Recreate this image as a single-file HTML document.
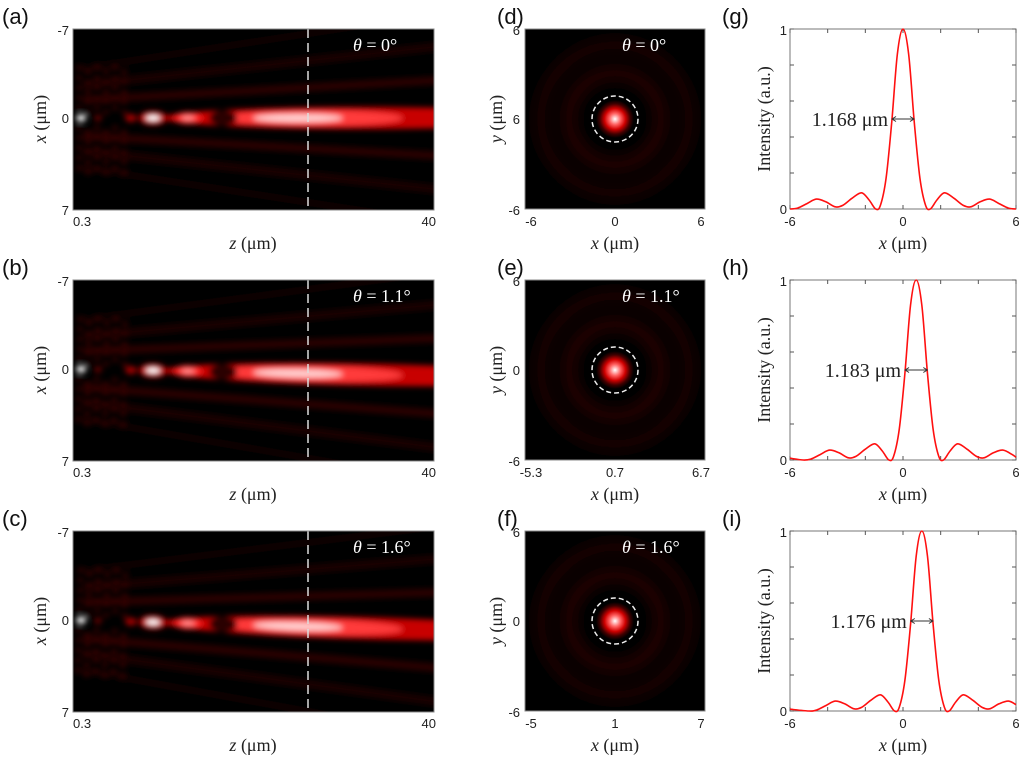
<!DOCTYPE html>
<html><head><meta charset="utf-8">
<style>
html,body{margin:0;padding:0;background:#fff;}
svg{display:block;}
.tk{font-family:"Liberation Sans",sans-serif;font-size:13px;fill:#222;}
.lb{font-family:"Liberation Serif",serif;font-size:18px;fill:#222;}
.fw{font-family:"Liberation Serif",serif;font-size:20px;fill:#222;}
.pl{font-family:"Liberation Sans",sans-serif;font-size:22px;fill:#111;}
.th{font-family:"Liberation Serif",serif;font-size:18px;fill:#fff;}
</style></head>
<body>
<svg id="fig" width="1024" height="758" viewBox="0 0 1024 758" xmlns="http://www.w3.org/2000/svg">
<defs>
<filter id="blur" x="-20%" y="-50%" width="140%" height="200%"><feGaussianBlur stdDeviation="3"/></filter>
<filter id="blur2" x="-30%" y="-30%" width="160%" height="160%"><feGaussianBlur stdDeviation="6"/></filter>
<radialGradient id="spot">
<stop offset="0" stop-color="#ffffff"/><stop offset="0.3" stop-color="#ff6060"/><stop offset="0.55" stop-color="#d00000"/><stop offset="0.8" stop-color="#400000"/><stop offset="1" stop-color="#000"/>
</radialGradient>
</defs>
</svg>
<script>
// ---- data ----
const rowAngles = [0, 1.1, 1.6];
const angleLabels = ["0°", "1.1°", "1.6°"];
const beamLetters = ["(a)", "(b)", "(c)"];
const spotLetters = ["(d)", "(e)", "(f)"];
const profLetters = ["(g)", "(h)", "(i)"];
const spotXTicks = [["-6","0","6"], ["-5.3","0.7","6.7"], ["-5","1","7"]];
const spotYTicks = [["6","6","-6"], ["6","0","-6"], ["6","0","-6"]];
const fwhmLabels = ["1.168 μm", "1.183 μm", "1.176 μm"];
const fwhmWidths = [1.168, 1.183, 1.176];
const peakPos = [0, 0.7, 1.0];
const profX_g = [-6,-5.6,-5.1,-4.6,-4.1,-3.6,-3.2,-2.7,-2.2,-1.8,-1.45,-1.2,-0.9,-0.6,-0.3,0,0.3,0.6,0.9,1.2,1.45,1.8,2.2,2.7,3.2,3.6,4.1,4.6,5.1,5.6,6];
const profY_g = [0,0.005,0.03,0.055,0.04,0.012,0.02,0.06,0.09,0.05,0,0.02,0.17,0.48,0.86,1,0.86,0.48,0.17,0.02,0,0.05,0.09,0.06,0.02,0.012,0.04,0.055,0.03,0.005,0];
const profX_h = [-6,-5.3,-4.9,-4.4,-3.9,-3.4,-2.9,-2.5,-2.0,-1.5,-1.1,-0.75,-0.5,-0.2,0.1,0.4,0.7,1.0,1.3,1.6,1.9,2.15,2.5,2.9,3.4,3.9,4.3,4.8,5.3,5.8,6];
const profY_h = [0.01,0,0.005,0.03,0.055,0.04,0.012,0.02,0.06,0.09,0.05,0,0.02,0.17,0.48,0.86,1,0.86,0.48,0.17,0.02,0,0.05,0.09,0.06,0.02,0.012,0.04,0.055,0.03,0.015];
const profX_i = [-6,-5,-4.6,-4.1,-3.6,-3.1,-2.6,-2.2,-1.7,-1.2,-0.8,-0.45,-0.2,0.1,0.4,0.7,1.0,1.3,1.6,1.9,2.2,2.45,2.8,3.2,3.7,4.2,4.6,5.1,5.6,6];
const profY_i = [0.01,0,0.005,0.03,0.055,0.04,0.012,0.02,0.06,0.09,0.05,0,0.02,0.17,0.48,0.86,1,0.86,0.48,0.17,0.02,0,0.05,0.09,0.06,0.02,0.012,0.04,0.055,0.035];
const profXs = [profX_g, profX_h, profX_i];
const profYs = [profY_g, profY_h, profY_i];

const NS = "http://www.w3.org/2000/svg";
const svg = document.getElementById("fig");
function mk(tag, attrs, parent, text){
  const e = document.createElementNS(NS, tag);
  for (const k in attrs) e.setAttribute(k, attrs[k]);
  if (text !== undefined) e.textContent = text;
  (parent || svg).appendChild(e);
  return e;
}
const rowOff = [0, 251, 502];

rowOff.forEach((R, r) => {
  // ===== beam panel =====
  const ax = 73, ay = 29 + R, aw = 361, ah = 181;
  const l1 = mk("text", {x: 2, y: 24 + R, class: "pl"}, svg, beamLetters[r]);
  
  
  const cp = mk("clipPath", {id: "clipA" + r}, svg);
  mk("rect", {x: ax, y: ay, width: aw, height: ah}, cp);
  const bg = mk("g", {"clip-path": "url(#clipA" + r + ")"});
  
  
  mk("rect", {x: ax, y: ay, width: aw, height: ah, fill: "#000"}, bg);
  const cy = 89;
  const inner = mk("g", {transform: `translate(${ax},${ay}) rotate(${rowAngles[r]} 0 ${cy})`, filter: "url(#blur)"}, bg);
  // side lobes
  [[18,38,"#2c0000",8],[33,72,"#1a0000",8],[50,105,"#100000",7]].forEach(s=>{
    mk("line", {x1: 10, y1: cy - s[0], x2: 370, y2: cy - s[1], stroke: s[2], "stroke-width": s[3]}, inner);
    mk("line", {x1: 10, y1: cy + s[0], x2: 370, y2: cy + s[1], stroke: s[2], "stroke-width": s[3]}, inner);
  });
  // near-field speckle
  for (let i = 0; i < 6; i++) for (let j = -5; j <= 5; j++) {
    if (j === 0) continue;
    mk("ellipse", {cx: 6 + i * 9, cy: cy + j * 10 + (i % 2) * 4, rx: 3, ry: 2.5, fill: "#3a0000"}, inner);
  }
  mk("ellipse", {cx: 290, cy: cy, rx: 200, ry: 11, fill: "#c80000"}, inner);
  mk("ellipse", {cx: 240, cy: cy, rx: 90, ry: 8, fill: "#ff3a3a"}, inner);
  mk("ellipse", {cx: 225, cy: cy, rx: 45, ry: 4, fill: "#ffd0d0"}, inner);
  mk("ellipse", {cx: 150, cy: cy, rx: 14, ry: 8, fill: "#2a0000"}, inner);
  mk("ellipse", {cx: 115, cy: cy, rx: 14, ry: 6, fill: "#ff2020"}, inner);
  mk("ellipse", {cx: 115, cy: cy, rx: 7, ry: 2.5, fill: "#ff9090"}, inner);
  mk("ellipse", {cx: 80, cy: cy, rx: 14, ry: 7, fill: "#c00000"}, inner);
  mk("ellipse", {cx: 80, cy: cy, rx: 7, ry: 3, fill: "#ffffff"}, inner);
  mk("ellipse", {cx: 58, cy: cy, rx: 6, ry: 4, fill: "#a00000"}, inner);
  mk("ellipse", {cx: 8, cy: cy, rx: 5, ry: 3.5, fill: "#ffffff"}, inner);
  mk("ellipse", {cx: 25, cy: cy, rx: 4, ry: 3, fill: "#700000"}, inner);
  const dl = mk("line", {x1: 308, y1: ay, x2: 308, y2: ay + ah, stroke: "#ddd", "stroke-width": 1.5, "stroke-dasharray": "9 5"});
  
  
  mk("rect", {x: ax, y: ay, width: aw, height: ah, fill: "none", stroke: "#888", "stroke-width": 1});
  const t1 = mk("text", {x: 353, y: ay + 22, class: "th"});
  
  
  mk("tspan", {"font-style": "italic"}, t1, "θ");
  mk("tspan", {}, t1, " = " + angleLabels[r]);
  [["-7", ay + 6], ["0", ay + 94], ["7", ay + 186]].forEach(t => {
    const e = mk("text", {x: 69, y: t[1], class: "tk", "text-anchor": "end"}, svg, t[0]);
    
    
  });
  const tz0 = mk("text", {x: 73, y: ay + 197, class: "tk"}, svg, "0.3");
  
  
  const tz1 = mk("text", {x: 436, y: ay + 197, class: "tk", "text-anchor": "end"}, svg, "40");
  
  
  const xl = mk("text", {x: 253, y: ay + 220, class: "lb", "text-anchor": "middle"});
  
  
  mk("tspan", {"font-style": "italic"}, xl, "z");
  mk("tspan", {}, xl, " (μm)");
  const yl = mk("text", {x: 0, y: 0, class: "lb", "text-anchor": "middle", transform: `translate(46,${ay + 90}) rotate(-90)`});
  
  
  mk("tspan", {"font-style": "italic"}, yl, "x");
  mk("tspan", {}, yl, " (μm)");

  // ===== spot panel =====
  const dx = 525, dy = 29 + R, dw = 180, dh = 180;
  const l2 = mk("text", {x: 497, y: 24 + R, class: "pl"}, svg, spotLetters[r]);
  
  
  const cp2 = mk("clipPath", {id: "clipD" + r}, svg);
  mk("rect", {x: dx, y: dy, width: dw, height: dh}, cp2);
  const sg = mk("g", {"clip-path": "url(#clipD" + r + ")"});
  
  
  mk("rect", {x: dx, y: dy, width: dw, height: dh, fill: "#000"}, sg);
  const ccx = dx + 90, ccy = dy + 90;
  const rg = mk("g", {filter: "url(#blur2)"}, sg);
  mk("circle", {cx: ccx, cy: ccy, r: 46, fill: "none", stroke: "#1e0000", "stroke-width": 18}, rg);
  mk("circle", {cx: ccx, cy: ccy, r: 74, fill: "none", stroke: "#120000", "stroke-width": 16}, rg);
  mk("circle", {cx: ccx, cy: ccy, r: 19, fill: "url(#spot)"}, sg);
  const dc = mk("circle", {cx: ccx, cy: ccy, r: 23, fill: "none", stroke: "#eee", "stroke-width": 1.5, "stroke-dasharray": "5 3"});
  
  
  mk("rect", {x: dx, y: dy, width: dw, height: dh, fill: "none", stroke: "#888", "stroke-width": 1});
  const t2 = mk("text", {x: 622, y: dy + 22, class: "th"});
  
  
  mk("tspan", {"font-style": "italic"}, t2, "θ");
  mk("tspan", {}, t2, " = " + angleLabels[r]);
  [dy + 6, dy + 95, dy + 186].forEach((yy, i) => {
    const e = mk("text", {x: 520, y: yy, class: "tk", "text-anchor": "end"}, svg, spotYTicks[r][i]);
    
    
  });
  [dx + 6, dx + 90, dx + 176].forEach((xx, i) => {
    const e = mk("text", {x: xx, y: dy + 197, class: "tk", "text-anchor": "middle"}, svg, spotXTicks[r][i]);
    
    
  });
  const xl2 = mk("text", {x: 615, y: dy + 220, class: "lb", "text-anchor": "middle"});
  
  
  mk("tspan", {"font-style": "italic"}, xl2, "x");
  mk("tspan", {}, xl2, " (μm)");
  const yl2 = mk("text", {x: 0, y: 0, class: "lb", "text-anchor": "middle", transform: `translate(502,${dy + 90}) rotate(-90)`});
  
  
  mk("tspan", {"font-style": "italic"}, yl2, "y");
  mk("tspan", {}, yl2, " (μm)");

  // ===== profile panel =====
  const gx = 790, gy = 29 + R, gw = 226, gh = 180;
  const X = v => gx + (v + 6) / 12 * gw;
  const Y = v => gy + gh - v * gh;
  const l3 = mk("text", {x: 722, y: 24 + R, class: "pl"}, svg, profLetters[r]);
  
  
  const fr = mk("rect", {x: gx, y: gy, width: gw, height: gh, fill: "#fff", stroke: "#777", "stroke-width": 1});
  
  
  for (let v = -6; v <= 6; v += 2) {
    mk("line", {x1: X(v), y1: gy + gh, x2: X(v), y2: gy + gh - 4, stroke: "#555"});
    mk("line", {x1: X(v), y1: gy, x2: X(v), y2: gy + 4, stroke: "#555"});
  }
  for (let v = 0; v <= 1.001; v += 0.2) {
    mk("line", {x1: gx, y1: Y(v), x2: gx + 4, y2: Y(v), stroke: "#555"});
    mk("line", {x1: gx + gw, y1: Y(v), x2: gx + gw - 4, y2: Y(v), stroke: "#555"});
  }
  [["1", 1], ["0", 0]].forEach(t => {
    const e = mk("text", {x: gx - 3, y: Y(t[1]) + (t[1] ? 6 : 5), class: "tk", "text-anchor": "end"}, svg, t[0]);
    
    
  });
  [-6, 0, 6].forEach(v => {
    const e = mk("text", {x: X(v), y: gy + gh + 17, class: "tk", "text-anchor": "middle"}, svg, String(v));
    
    
  });
  const xl3 = mk("text", {x: X(0), y: gy + 220, class: "lb", "text-anchor": "middle"});
  
  
  mk("tspan", {"font-style": "italic"}, xl3, "x");
  mk("tspan", {}, xl3, " (μm)");
  const yl3 = mk("text", {x: 0, y: 0, class: "lb", "text-anchor": "middle", transform: `translate(770,${gy + 90}) rotate(-90)`}, svg, "Intensity (a.u.)");
  
  
  // curve (Catmull-Rom)
  const xs = profXs[r], ys = profYs[r];
  const P = xs.map((x, i) => [X(x), Y(ys[i])]);
  let d = `M${P[0][0]},${P[0][1]}`;
  for (let i = 0; i < P.length - 1; i++) {
    const p0 = P[Math.max(0, i - 1)], p1 = P[i], p2 = P[i + 1], p3 = P[Math.min(P.length - 1, i + 2)];
    const c1 = [p1[0] + (p2[0] - p0[0]) / 6, p1[1] + (p2[1] - p0[1]) / 6];
    const c2 = [p2[0] - (p3[0] - p1[0]) / 6, p2[1] - (p3[1] - p1[1]) / 6];
    d += ` C${c1[0]},${c1[1]} ${c2[0]},${c2[1]} ${p2[0]},${p2[1]}`;
  }
  const cv = mk("path", {d: d, fill: "none", stroke: "#ff1010", "stroke-width": 1.6});
  
  
  // FWHM arrow
  const a0 = X(peakPos[r] - fwhmWidths[r] / 2), a1 = X(peakPos[r] + fwhmWidths[r] / 2), ayy = Y(0.5);
  const ar = mk("g", {stroke: "#333", "stroke-width": 1, fill: "none"});
  
  
  mk("line", {x1: a0, y1: ayy, x2: a1, y2: ayy}, ar);
  mk("path", {d: `M${a0 + 4},${ayy - 2.5} L${a0},${ayy} L${a0 + 4},${ayy + 2.5} M${a1 - 4},${ayy - 2.5} L${a1},${ayy} L${a1 - 4},${ayy + 2.5}`}, ar);
  const fl = mk("text", {x: a0 - 4, y: ayy + 7, class: "fw", "text-anchor": "end"}, svg, fwhmLabels[r]);
  
  
});
</script>
</body></html>
